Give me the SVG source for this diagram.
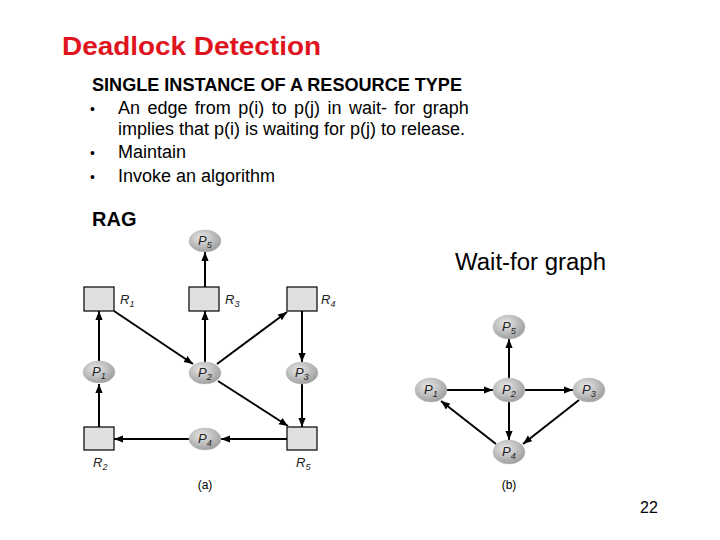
<svg xmlns="http://www.w3.org/2000/svg" width="720" height="540" viewBox="0 0 720 540">
<defs>
<radialGradient id="pg" cx="0.4" cy="0.35" r="0.7">
<stop offset="0" stop-color="#e8e8e8"/>
<stop offset="1" stop-color="#9a9a9a"/>
</radialGradient>
<marker id="ah" viewBox="0 0 10 10" refX="10" refY="5" markerWidth="9" markerHeight="9" markerUnits="userSpaceOnUse" orient="auto">
<path d="M0,1 L10,5 L0,9 Z" fill="#000"/>
</marker>
<style>
.t{font-family:"Liberation Sans",Arial,sans-serif;fill:#000}
.b{font-weight:bold}
.p{fill:url(#pg);stroke:#bbb;stroke-width:0.5}
.r{fill:#e0e0e0;stroke:#000;stroke-width:1.2}
.nl{font-family:"Liberation Sans",Arial,sans-serif;font-style:italic;font-size:13px;fill:#222}
.sub{font-size:9px}
.e{stroke:#000;stroke-width:2;fill:none;marker-end:url(#ah)}
</style>
</defs>
<rect width="720" height="540" fill="#fff"/>
<text class="t b" x="62" y="55" font-size="25.5" textLength="259" lengthAdjust="spacingAndGlyphs" style="fill:#e0141e">Deadlock Detection</text>
<text class="t b" x="92" y="91" font-size="18" textLength="370" lengthAdjust="spacingAndGlyphs">SINGLE INSTANCE OF A RESOURCE TYPE</text>
<g class="t" font-size="18">
<text x="90" y="114" font-size="14">•</text><text x="118" y="114" word-spacing="2.4">An edge from p(i) to p(j) in wait- for graph</text>
<text x="118" y="135" textLength="347" lengthAdjust="spacingAndGlyphs">implies that p(i) is waiting for p(j) to release.</text>
<text x="90" y="158" font-size="14">•</text><text x="118" y="158">Maintain</text>
<text x="90" y="182" font-size="14">•</text><text x="118" y="182">Invoke an algorithm</text>
</g>
<text class="t b" x="92" y="226" font-size="20">RAG</text>
<text class="t" x="455" y="270" font-size="23" textLength="151" lengthAdjust="spacingAndGlyphs">Wait-for graph</text>
<text class="t" x="640" y="513" font-size="16">22</text>

<g id="connectors">
<line class="e" x1="205" y1="287" x2="205" y2="252"/>
<line class="e" x1="99" y1="361" x2="99" y2="311"/>
<line class="e" x1="114" y1="311" x2="193" y2="364"/>
<line class="e" x1="205" y1="362" x2="205" y2="311"/>
<line class="e" x1="217" y1="364" x2="287" y2="312"/>
<line class="e" x1="302" y1="311" x2="302" y2="362"/>
<line class="e" x1="99" y1="427" x2="99" y2="384"/>
<line class="e" x1="218" y1="381" x2="288" y2="426"/>
<line class="e" x1="302" y1="384" x2="302" y2="427"/>
<line class="e" x1="287" y1="439" x2="221" y2="439"/>
<line class="e" x1="189" y1="439" x2="114" y2="439"/>

<line class="e" x1="447" y1="390" x2="493" y2="390"/>
<line class="e" x1="525" y1="390" x2="573" y2="390"/>
<line class="e" x1="509" y1="378" x2="509" y2="339"/>
<line class="e" x1="509" y1="402" x2="509" y2="440"/>
<line class="e" x1="579" y1="400" x2="523" y2="444"/>
<line class="e" x1="496" y1="444" x2="441" y2="401"/>
</g>

<g id="a-P5"><ellipse class="p" cx="205" cy="241" rx="16" ry="11"/><text class="nl" x="198" y="245">P<tspan class="sub" dy="3">5</tspan></text></g>
<g id="a-R1"><rect class="r" x="84" y="287" width="30" height="24"/><text class="nl" x="120" y="304">R<tspan class="sub" dy="3">1</tspan></text></g>
<g id="a-R3"><rect class="r" x="189" y="287" width="30" height="24"/><text class="nl" x="225" y="304">R<tspan class="sub" dy="3">3</tspan></text></g>
<g id="a-R4"><rect class="r" x="287" y="287" width="30" height="24"/><text class="nl" x="321" y="304">R<tspan class="sub" dy="3">4</tspan></text></g>
<g id="a-P1"><ellipse class="p" cx="99" cy="372" rx="16" ry="11"/><text class="nl" x="92" y="376">P<tspan class="sub" dy="3">1</tspan></text></g>
<g id="a-P2"><ellipse class="p" cx="205" cy="373" rx="16" ry="11"/><text class="nl" x="198" y="377">P<tspan class="sub" dy="3">2</tspan></text></g>
<g id="a-P3"><ellipse class="p" cx="302" cy="373" rx="16" ry="11"/><text class="nl" x="295" y="377">P<tspan class="sub" dy="3">3</tspan></text></g>
<g id="a-R2"><rect class="r" x="84" y="427" width="30" height="23"/><text class="nl" x="93" y="467">R<tspan class="sub" dy="3">2</tspan></text></g>
<g id="a-P4"><ellipse class="p" cx="205" cy="439" rx="16" ry="11"/><text class="nl" x="198" y="443">P<tspan class="sub" dy="3">4</tspan></text></g>
<g id="a-R5"><rect class="r" x="287" y="427" width="30" height="23"/><text class="nl" x="296" y="467">R<tspan class="sub" dy="3">5</tspan></text></g>
<text class="t" x="205" y="489" font-size="12" text-anchor="middle" fill="#333">(a)</text>

<g id="b-P5"><ellipse class="p" cx="509" cy="327" rx="16" ry="12"/><text class="nl" x="502" y="331">P<tspan class="sub" dy="3">5</tspan></text></g>
<g id="b-P1"><ellipse class="p" cx="431" cy="390" rx="16" ry="12"/><text class="nl" x="424" y="394">P<tspan class="sub" dy="3">1</tspan></text></g>
<g id="b-P2"><ellipse class="p" cx="509" cy="390" rx="16" ry="12"/><text class="nl" x="502" y="394">P<tspan class="sub" dy="3">2</tspan></text></g>
<g id="b-P3"><ellipse class="p" cx="589" cy="390" rx="16" ry="12"/><text class="nl" x="582" y="394">P<tspan class="sub" dy="3">3</tspan></text></g>
<g id="b-P4"><ellipse class="p" cx="509" cy="452" rx="16" ry="12"/><text class="nl" x="502" y="456">P<tspan class="sub" dy="3">4</tspan></text></g>
<text class="t" x="509" y="489" font-size="12" text-anchor="middle" fill="#333">(b)</text>
</svg>
